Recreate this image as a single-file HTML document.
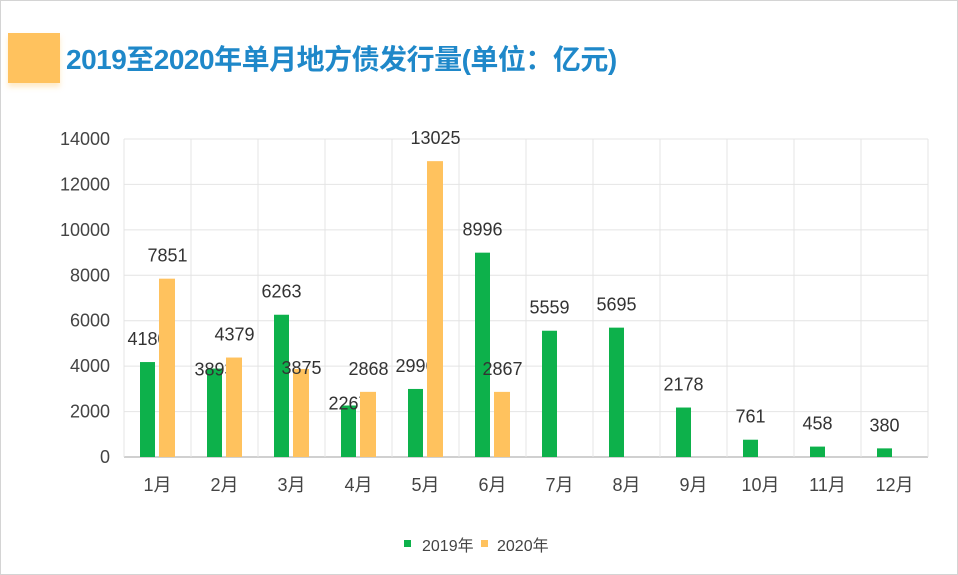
<!DOCTYPE html>
<html><head><meta charset="utf-8"><style>
body{margin:0;width:958px;height:575px;background:#fff;overflow:hidden;font-family:"Liberation Sans","Noto Sans CJK SC",sans-serif;}
#frame{position:absolute;left:0;top:0;width:956px;height:573px;border:1px solid #d4d4d4;}
#tbox{position:absolute;left:8px;top:33px;width:52px;height:50px;background:#ffc25e;box-shadow:0 4px 5px rgba(255,194,94,0.35);}
#title{position:absolute;left:66px;top:38px;font-size:28px;font-weight:bold;color:#1f88c9;letter-spacing:-0.5px;white-space:nowrap;}
</style></head><body>
<div id="frame"></div>
<div id="tbox"></div>
<div id="title">2019至2020年单月地方债发行量(单位：亿元)</div>
<svg id="chart" width="958" height="575" style="position:absolute;left:0;top:0"></svg>
<script>
const categories=["1月","2月","3月","4月","5月","6月","7月","8月","9月","10月","11月","12月"];
const values2019=[4180,3893,6263,2267,2996,8996,5559,5695,2178,761,458,380];
const values2020=[7851,4379,3875,2868,13025,2867,null,null,null,null,null,null];
const yTicks=[0,2000,4000,6000,8000,10000,12000,14000];
const ns="http://www.w3.org/2000/svg";
const svg=document.getElementById('chart');
const X0=124,X1=928,Y0=457,Y1=139,YMAX=14000;
const bw=(X1-X0)/categories.length;
function y(v){return Y0-(v/YMAX)*(Y0-Y1);}
function cx(i){return X0+bw*(i+0.5);}
function mk(tag,attrs){const e=document.createElementNS(ns,tag);for(const k in attrs)e.setAttribute(k,attrs[k]);svg.appendChild(e);return e;}
yTicks.forEach(t=>{
 const g=mk('line',{x1:X0,x2:X1,y1:y(t),y2:y(t),stroke:t===0?'#d0d0d0':'#e4e4e4','stroke-width':t===0?2:1});
 
 
 const l=mk('text',{x:X0-14,y:y(t)+6,'text-anchor':'end','font-size':18,fill:'#444'});
 l.textContent=t;
 
 
});
for(let i=0;i<=categories.length;i++){
 const v=mk('line',{x1:X0+bw*i,x2:X0+bw*i,y1:Y1,y2:Y0,stroke:'#e4e4e4','stroke-width':1});
 
 
}
const labelDy2019={1:-7+31,3:-3+24};
const labelDy2020={2:22};
categories.forEach((c,i)=>{
 const t=mk('text',{x:cx(i),y:491,'text-anchor':'middle','font-size':18,fill:'#444'});
 t.textContent=c;
 
 
 const a=values2019[i];
 if(a!=null){
  const r=mk('rect',{x:cx(i)-17.5,y:y(a),width:15,height:Y0-y(a),fill:'#0db14b'});
  
  
  const dy=labelDy2019[i]||0;
  const l=mk('text',{x:cx(i)-10,y:y(a)-17+dy,'text-anchor':'middle','font-size':18,fill:'#333'});
  l.textContent=a;
  
  
 }
 const b=values2020[i];
 if(b!=null){
  const r=mk('rect',{x:cx(i)+1.5,y:y(b),width:16,height:Y0-y(b),fill:'#ffc25e'});
  
  
  const dy=labelDy2020[i]||0;
  const l=mk('text',{x:cx(i)+10,y:y(b)-17+dy,'text-anchor':'middle','font-size':18,fill:'#333'});
  l.textContent=b;
  
  
 }
});
const lg=[["2019年","#0db14b",404,422],["2020年","#ffc25e",481,497]];
lg.forEach(e=>{
 const s=mk('rect',{x:e[2],y:540,width:7,height:7,fill:e[1]});
 
 
 const t=mk('text',{x:e[3],y:551,'font-size':16,fill:'#444'});
 t.textContent=e[0];
 
 
});
</script>
</body></html>
